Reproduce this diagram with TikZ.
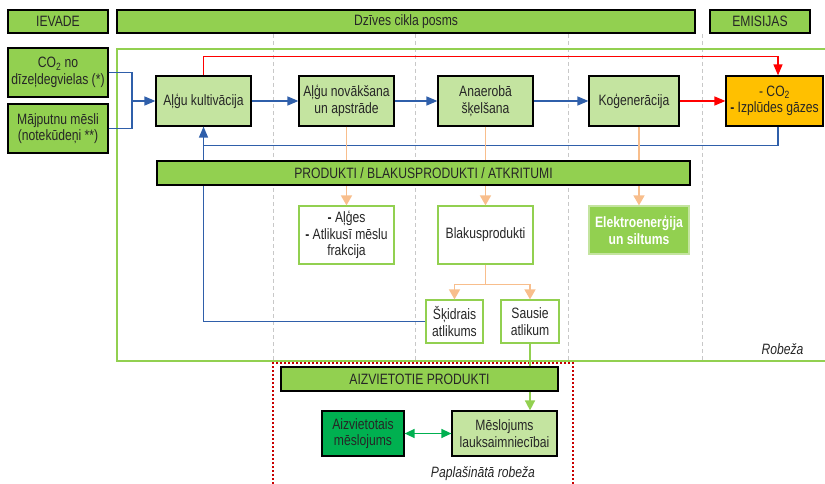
\documentclass[tikz,border=0pt]{standalone}
\usepackage{fontspec}
\setmainfont{Liberation Sans}[FakeStretch=0.81]
\usetikzlibrary{arrows.meta, positioning}
\definecolor{hdrgreen}{RGB}{146,208,80}
\definecolor{procgreen}{RGB}{196,228,160}
\definecolor{darkgreen}{RGB}{0,176,80}
\definecolor{co2orange}{RGB}{255,192,0}
\definecolor{flowblue}{RGB}{47,95,170}
\definecolor{prodorange}{RGB}{248,190,140}
\definecolor{txtgray}{RGB}{38,38,38}
\definecolor{gridgray}{RGB}{200,200,200}
\definecolor{bordred}{RGB}{200,0,0}

\begin{document}
\begin{tikzpicture}[x=1pt, y=-1pt, font=\fontsize{15}{16.5}\selectfont, text=txtgray]
    \tikzstyle{hdr} = [rectangle, draw=black, line width=1.2pt, fill=hdrgreen, minimum height=23pt, inner sep=0pt]
    \tikzstyle{input} = [rectangle, draw=black, line width=1.2pt, fill=hdrgreen, minimum width=100pt, minimum height=49pt, inner sep=0pt, align=center]
    \tikzstyle{proc} = [rectangle, draw=black, line width=1.2pt, fill=procgreen, minimum width=95pt, minimum height=50pt, inner sep=0pt, align=center]
    \tikzstyle{prod} = [rectangle, draw=hdrgreen, line width=1.2pt, fill=white, inner sep=0pt, align=center]
    \tikzstyle{bar} = [rectangle, draw=black, line width=1.2pt, fill=hdrgreen, minimum height=24pt, inner sep=0pt]
    \tikzstyle{grid} = [draw=gridgray, line width=0.8pt, dash pattern=on 4pt off 3pt]
    \tikzstyle{bline} = [draw=flowblue, line width=1.4pt]
    \tikzstyle{barrow} = [bline, -{Triangle[length=11pt, width=9pt]}]
    \tikzstyle{rarrow} = [draw=red, line width=1.4pt, -{Triangle[length=11pt, width=9pt]}]
    \tikzstyle{oline} = [draw=prodorange, line width=1.6pt]
    \tikzstyle{oarrow} = [oline, -{Triangle[length=10pt, width=11pt]}]
    \tikzstyle{garrow} = [draw=hdrgreen, line width=1.6pt, -{Triangle[length=10pt, width=10pt]}]

    \useasboundingbox (0,0) rectangle (825,484);

    \foreach \x in {273,415,568,702}
        \path [grid] (\x,34) -- (\x,361);
    \draw [hdrgreen, line width=2pt] (825,49) -- (117,49) -- (117,361) -- (825,361);
    \draw [bordred, line width=2pt, dash pattern=on 2pt off 2pt] (273,484) -- (273,363) -- (573,363) -- (573,484);

    \node [hdr, minimum width=100pt] (ievade) at (58,21.5) {IEVADE};
    \node [hdr, minimum width=578pt] (dzives) at (406,21.5) {Dzīves cikla posms};
    \node [hdr, minimum width=100pt] (emisijas) at (760,21.5) {EMISIJAS};

    \node [input] (co2in) at (58,72.5) {CO\textsubscript{2} no\\dīzeļdegvielas (*)};
    \node [input] (mesli) at (58,128.5) {Mājputnu mēsli\\(notekūdeņi **)};

    \node [proc] (kult) at (203.5,101) {Aļģu kultivācija};
    \node [proc] (novak) at (346.5,101) {Aļģu novākšana\\un apstrāde};
    \node [proc] (anaer) at (485.5,101) {Anaerobā\\šķelšana};
    \node [proc, minimum width=90pt] (kogen) at (634,101) {Koģenerācija};
    \node [proc, fill=co2orange, minimum width=97pt] (emis) at (774.5,101) {- CO\textsubscript{2}\\\textbf{-} Izplūdes gāzes};

    \node [prod, minimum width=95pt, minimum height=58pt] (alges) at (346.5,235) {\textbf{-} Aļģes\\\textbf{-} Atlikusī mēslu\\frakcija};
    \node [prod, minimum width=95pt, minimum height=58pt] (blakus) at (485.5,235) {Blakusprodukti};
    \node [prod, draw=procgreen, fill=hdrgreen, text=white, font=\fontsize{15}{16.5}\selectfont\bfseries, minimum width=100pt, minimum height=48pt] (elektro) at (639,230) {Elektroenerģija\\un siltums};
    \node [prod, minimum width=57pt, minimum height=43pt] (skidr) at (454.5,321.5) {Šķidrais\\atlikums};
    \node [prod, minimum width=58pt, minimum height=43pt] (sausie) at (530,321.5) {Sausie\\atlikum};

    \node [proc, fill=darkgreen, minimum width=82pt, minimum height=45pt] (aizvmesl) at (363,433.5) {Aizvietotais\\mēslojums};
    \node [proc, minimum width=105pt, minimum height=45pt] (meslo) at (504.5,433.5) {Mēslojums\\lauksaimniecībai};

    \coordinate (join) at (132,101);
    \path [bline] (co2in.east) -| (join);
    \path [bline] (mesli.east) -| (join);
    \path [barrow] (join) -- (kult.west);
    \path [barrow] (kult) -- (novak);
    \path [barrow] (novak) -- (anaer);
    \path [barrow] (anaer) -- (kogen);
    \path [rarrow] (kogen) -- (emis);
    \path [rarrow] (kult.north) -- ++(0,-19) -| ([xshift=3.5pt]emis.north);
    \path [barrow] ([xshift=3.5pt]emis.south) -- ++(0,19) -| (kult.south);
    \path [bline] (skidr.west) -| (kult.south);

    \path [oarrow] (novak) -- (alges);
    \path [oarrow] (anaer) -- (blakus);
    \path [oarrow] (elektro.north |- kogen.south) -- (elektro.north);
    \path [oline] (blakus.south) -- ++(0,20) coordinate (split);
    \path [oarrow] (split) -| (skidr.north);
    \path [oarrow] (split) -| (sausie.north);
    \path [garrow] (sausie.south) -- (sausie.south |- meslo.north);
    \path [draw=darkgreen, line width=1.4pt, {Triangle[length=10pt, width=9pt]}-{Triangle[length=10pt, width=9pt]}] (aizvmesl) -- (meslo);

    \node [bar, minimum width=533pt] (produkti) at (423.5,173) {PRODUKTI / BLAKUSPRODUKTI / ATKRITUMI};
    \node [bar, minimum width=277pt] (aizvbar) at (419.5,379) {AIZVIETOTIE PRODUKTI};

    \node [anchor=east, font=\fontsize{15}{16.5}\selectfont\itshape] (robeza) at (807,349) {Robeža};
    \node [font=\fontsize{15}{16.5}\selectfont\itshape] (paplas) at (483,474) {Paplašinātā robeža};
\end{tikzpicture}
\end{document}
